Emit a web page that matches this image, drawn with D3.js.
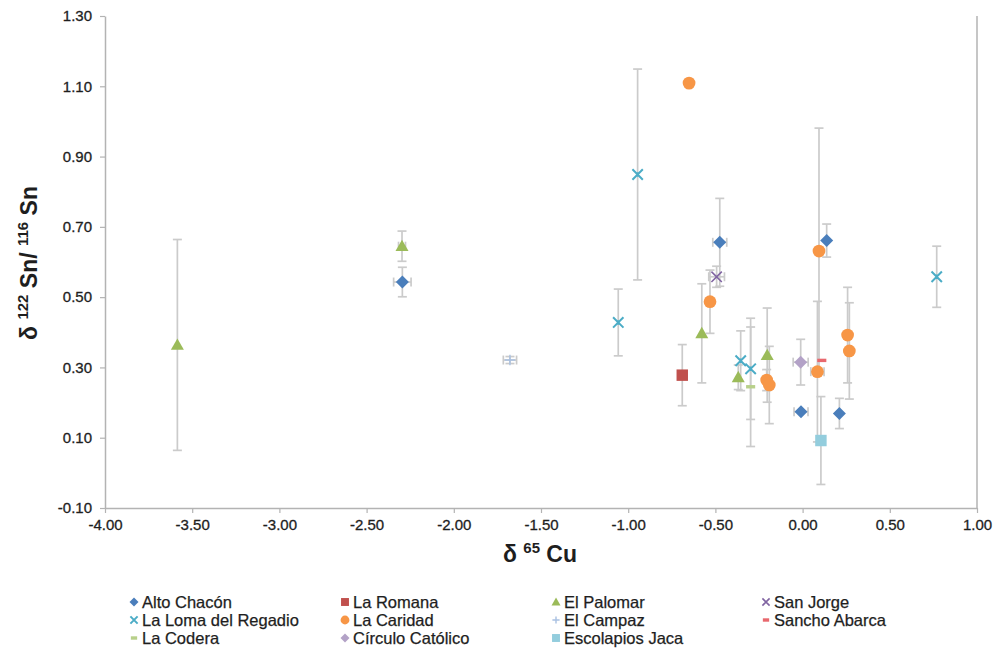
<!DOCTYPE html>
<html>
<head>
<meta charset="utf-8">
<script src="https://cdn.jsdelivr.net/npm/d3@7"></script>
<style>
  html, body { margin: 0; padding: 0; background: #fff; }
  svg { display: block; font-family: "Liberation Sans", Arial, sans-serif; }
</style>
</head>
<body>
<svg id="chart" width="1005" height="649"></svg>
<script>
// ---- Data: each point is [x (δ65Cu), y (δ122/116Sn), yError, xError] ----
const altoChacon = [[-2.295, 0.543, 0.042, 0.05], [-0.475, 0.656, 0.125, 0.04], [0.138, 0.661, 0.047, 0], [-0.009, 0.174, 0, 0.04], [0.211, 0.169, 0.043, 0]];
const laRomana = [[-0.690, 0.278, 0.087, 0]];
const elPalomar = [[-3.585, 0.364, 0.30, 0], [-2.297, 0.645, 0.043, 0.02], [-0.578, 0.397, 0.141, 0], [-0.369, 0.272, 0.035, 0], [-0.203, 0.335, 0.134, 0]];
const sanJorge = [[-0.493, 0.558, 0.03, 0.045]];
const laLoma = [[-0.946, 0.849, 0.30, 0], [-1.057, 0.428, 0.095, 0], [-0.355, 0.319, 0.085, 0], [-0.298, 0.296, 0.144, 0], [0.769, 0.558, 0.087, 0]];
const laCaridad = [[-0.651, 1.109, 0, 0], [-0.531, 0.487, 0.09, 0], [-0.206, 0.264, 0.03, 0], [-0.191, 0.250, 0.11, 0], [0.094, 0.631, 0.35, 0], [0.085, 0.288, 0.20, 0.038], [0.258, 0.392, 0.136, 0], [0.268, 0.347, 0.137, 0]];
const elCampaz = [[-1.678, 0.321, 0.01, 0.038]];
const sanchoAbarca = [[0.11, 0.320, 0, 0]];
const laCodera = [[-0.298, 0.245, 0.17, 0]];
const circuloCatolico = [[-0.011, 0.315, 0.065, 0.043]];
const escolapiosJaca = [[0.105, 0.092, 0.125, 0]];

const seriesNames = ["Alto Chacón", "La Romana", "El Palomar", "San Jorge", "La Loma del Regadio", "La Caridad", "El Campaz", "Sancho Abarca", "La Codera", "Círculo Católico", "Escolapios Jaca"];
const seriesData = [altoChacon, laRomana, elPalomar, sanJorge, laLoma, laCaridad, elCampaz, sanchoAbarca, laCodera, circuloCatolico, escolapiosJaca];
const seriesMarkers = ["diamond", "square", "triangle", "x", "star", "circle", "plus", "dash", "dash", "diamond", "square"];
const seriesColors = ["#4a7ebb", "#c0504d", "#9bbb59", "#8064a2", "#4bacc6", "#f79646", "#a9c1e2", "#e8686e", "#b8d08a", "#b3a2c7", "#93cddd"];

const xTicks = [-4.00, -3.50, -3.00, -2.50, -2.00, -1.50, -1.00, -0.50, 0.00, 0.50, 1.00];
const yTicks = [-0.10, 0.10, 0.30, 0.50, 0.70, 0.90, 1.10, 1.30];

// ---- Layout ----
const svg = d3.select("#chart");
const x = d3.scaleLinear().domain([-4, 1]).range([105, 977]);
const y = d3.scaleLinear().domain([-0.1, 1.3]).range([508, 16]);
const axisColor = "#b3b3b3";
const errColor = "#cbcbcb";
const textColor = "#1e1e1e";

// plot border (right side)
svg.append("line").attr("x1", x(1)).attr("x2", x(1)).attr("y1", y(1.3)).attr("y2", y(-0.1))
  .attr("stroke", axisColor).attr("stroke-width", 1.5);

const fmt = d => d.toFixed(2);

const gx = svg.append("g").attr("transform", `translate(0,${y(-0.1)})`)
  .call(d3.axisBottom(x).tickValues(xTicks).tickFormat(fmt).tickSize(5).tickSizeOuter(0).tickPadding(6));
const gy = svg.append("g").attr("transform", `translate(${x(-4)},0)`)
  .call(d3.axisLeft(y).tickValues(yTicks).tickFormat(fmt).tickSize(5).tickSizeOuter(0).tickPadding(8));
[gx, gy].forEach(g => {
  g.select(".domain").attr("stroke", axisColor).attr("stroke-width", 1.5);
  g.selectAll(".tick line").attr("stroke", axisColor).attr("stroke-width", 1.2);
  g.selectAll(".tick text").attr("fill", textColor).style("font-size", "15px")
    .attr("stroke", textColor).attr("stroke-width", 0.3)
    .style("font-family", "'Liberation Sans', Arial, sans-serif");
});

// axis titles
const xt = svg.append("text").attr("x", 540).attr("y", 562).attr("text-anchor", "middle")
  .style("font-size", "23px").style("font-weight", "bold").attr("fill", textColor);
xt.append("tspan").text("δ ");
xt.append("tspan").attr("dy", -9).style("font-size", "15px").text("65");
xt.append("tspan").attr("dy", 9).text(" Cu");

const yt = svg.append("text").attr("transform", "translate(37,263) rotate(-90)").attr("text-anchor", "middle")
  .style("font-size", "23px").style("font-weight", "bold").attr("fill", textColor);
yt.append("tspan").text("δ ");
yt.append("tspan").attr("dy", -9).style("font-size", "15px").text("122");
yt.append("tspan").attr("dy", 9).text(" Sn/ ");
yt.append("tspan").attr("dy", -9).style("font-size", "15px").text("116");
yt.append("tspan").attr("dy", 9).text(" Sn");

// ---- Marker drawing ----
function drawMarker(g, type, cx, cy, s, color) {
  const h = s / 2;
  switch (type) {
    case "diamond":
      g.append("path").attr("d", `M${cx},${cy - h}L${cx + h},${cy}L${cx},${cy + h}L${cx - h},${cy}Z`).attr("fill", color);
      break;
    case "square":
      g.append("rect").attr("x", cx - h * 0.88).attr("y", cy - h * 0.88).attr("width", s * 0.88).attr("height", s * 0.88).attr("fill", color);
      break;
    case "triangle":
      g.append("path").attr("d", `M${cx},${cy - h}L${cx + h},${cy + h * 0.75}L${cx - h},${cy + h * 0.75}Z`).attr("fill", color);
      break;
    case "circle":
      g.append("circle").attr("cx", cx).attr("cy", cy).attr("r", h * 0.98).attr("fill", color);
      break;
    case "x":
      g.append("path").attr("d", `M${cx - h * 0.8},${cy - h * 0.8}L${cx + h * 0.8},${cy + h * 0.8}M${cx + h * 0.8},${cy - h * 0.8}L${cx - h * 0.8},${cy + h * 0.8}`)
        .attr("stroke", color).attr("stroke-width", 1.6).attr("fill", "none");
      break;
    case "star":
      g.append("path").attr("d", `M${cx - h * 0.8},${cy - h * 0.8}L${cx + h * 0.8},${cy + h * 0.8}M${cx + h * 0.8},${cy - h * 0.8}L${cx - h * 0.8},${cy + h * 0.8}M${cx},${cy - h * 0.35}L${cx},${cy + h * 0.35}`)
        .attr("stroke", color).attr("stroke-width", 2).attr("fill", "none");
      break;
    case "plus":
      g.append("path").attr("d", `M${cx - h * 0.8},${cy}L${cx + h * 0.8},${cy}M${cx},${cy - h * 0.8}L${cx},${cy + h * 0.8}`)
        .attr("stroke", color).attr("stroke-width", 1.4).attr("fill", "none");
      break;
    case "dash":
      g.append("rect").attr("x", cx - h * 0.7).attr("y", cy - 1.7).attr("width", s * 0.7).attr("height", 3.4).attr("fill", color);
      break;
  }
}

// ---- Error bars ----
const errG = svg.append("g").attr("stroke", errColor).attr("stroke-width", 1.7).attr("fill", "none");
const cap = 4.5;
seriesData.forEach(pts => {
  pts.forEach(p => {
    const [vx, vy, ey, ex] = p;
    const px = x(vx), py = y(vy);
    if (ey > 0) {
      const y1 = y(vy + ey), y2 = y(vy - ey);
      errG.append("line").attr("x1", px).attr("x2", px).attr("y1", y1).attr("y2", y2);
      errG.append("line").attr("x1", px - cap).attr("x2", px + cap).attr("y1", y1).attr("y2", y1);
      errG.append("line").attr("x1", px - cap).attr("x2", px + cap).attr("y1", y2).attr("y2", y2);
    }
    if (ex > 0) {
      const x1 = x(vx - ex), x2 = x(vx + ex);
      errG.append("line").attr("x1", x1).attr("x2", x2).attr("y1", py).attr("y2", py);
      errG.append("line").attr("x1", x1).attr("x2", x1).attr("y1", py - cap).attr("y2", py + cap);
      errG.append("line").attr("x1", x2).attr("x2", x2).attr("y1", py - cap).attr("y2", py + cap);
    }
  });
});

// ---- Markers ----
const markG = svg.append("g");
seriesData.forEach((pts, i) => {
  pts.forEach(p => drawMarker(markG, seriesMarkers[i], x(p[0]), y(p[1]), 13, seriesColors[i]));
});

// ---- Legend ----
const legColX = [134, 345, 556, 766];
const legRowY = [602, 620, 638];
const legG = svg.append("g");
seriesNames.forEach((name, i) => {
  const cx = legColX[i % 4], cy = legRowY[Math.floor(i / 4)];
  drawMarker(legG, seriesMarkers[i], cx, cy, 9, seriesColors[i]);
  legG.append("text").attr("x", cx + 8).attr("y", cy + 6).style("font-size", "16.5px")
    .attr("fill", textColor).attr("stroke", textColor).attr("stroke-width", 0.25).text(name);
});
</script>
</body>
</html>
